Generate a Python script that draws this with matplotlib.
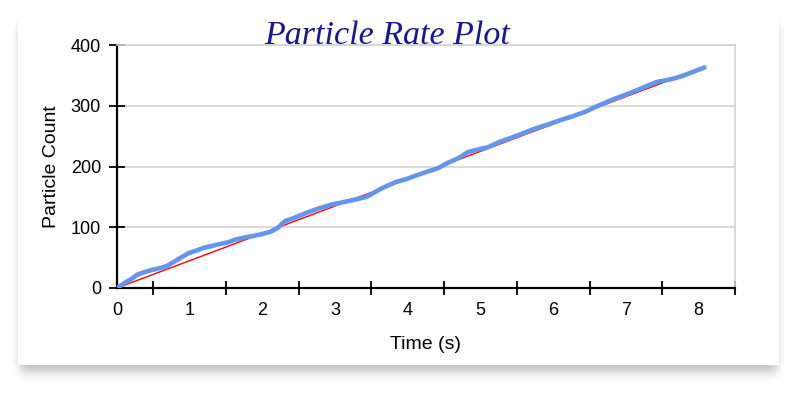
import matplotlib
matplotlib.use("Agg")
import numpy as np
import matplotlib.pyplot as plt
from matplotlib.patches import Rectangle

t_meas = [0.0, 0.10, 0.20, 0.28, 0.40, 0.49, 0.60, 0.70, 0.85, 0.98, 1.10, 1.19, 1.30,
          1.40, 1.52, 1.61, 1.75, 1.89, 2.00, 2.10, 2.20, 2.31, 2.45, 2.59, 2.75,
          2.94, 3.10, 3.29, 3.43, 3.55, 3.64, 3.75, 3.85, 4.00, 4.13, 4.28, 4.41,
          4.55, 4.70, 4.83, 4.97, 5.11, 5.25, 5.39, 5.55, 5.74, 5.90, 6.09, 6.25,
          6.44, 6.58, 6.70, 6.79, 6.95, 7.14, 7.28, 7.42, 7.55, 7.63, 7.75, 7.84,
          7.95, 8.08]
n_meas = [0, 8, 15, 22, 27, 30, 33, 37, 48, 57, 62, 66, 69,
          72, 75, 79, 83, 86, 89, 92, 98, 110, 116, 123, 130,
          137, 141, 146, 150, 158, 164, 170, 175, 180, 186, 192, 197,
          206, 214, 224, 228, 232, 240, 246, 253, 262, 268, 276, 282,
          290, 298, 304, 309, 316, 325, 332, 339, 342, 344, 348, 352,
          357, 363]

# linear fit
t_fit = [0.0, 7.6]
n_fit = [0.0, 342.0]

fig = plt.figure(figsize=(7.98, 3.94), dpi=100)
fig.patch.set_facecolor("white")

W, H = 798, 394
x0, y0, x1, y1 = 18, 12, 779, 365

# soft drop shadow behind the card (box blur of a shifted rectangle)
mask = np.zeros((H, W))
mask[y0 + 14:y1 + 6, x0 + 2:x1 - 2] = 1.0


def box_blur(a, r, axis):
    k = np.ones(2 * r + 1) / (2 * r + 1)
    return np.apply_along_axis(lambda v: np.convolve(v, k, mode="same"), axis, a)


for _ in range(3):
    mask = box_blur(mask, 5, 0)
    mask = box_blur(mask, 4, 1)
shadow = np.zeros((H, W, 4))
shadow[..., 3] = 0.28 * mask
fig.figimage(shadow, xo=0, yo=0, origin="upper", zorder=0)

fig.patches.append(Rectangle((x0 / W, (H - y1) / H), (x1 - x0) / W, (y1 - y0) / H,
                             transform=fig.transFigure, facecolor="white",
                             edgecolor="none", zorder=1))

ax = fig.add_axes([117 / W, (H - 288) / H, (735 - 117) / W, (288 - 45) / H])
ax.set_zorder(2)
ax.set_facecolor("white")

ax.plot(t_fit, n_fit, color="red", lw=1.0, zorder=2)
ax.plot(t_meas, n_meas, color="#6495ED", lw=3.3, solid_capstyle="round",
        solid_joinstyle="round", zorder=3)

ax.set_xlim(0, 8.5)
ax.set_ylim(0, 400)

ax.set_xticks(range(0, 9))
ax.set_xticks([k + 0.5 for k in range(9)], minor=True)
ax.set_yticks([0, 100, 200, 300, 400])
ax.tick_params(axis="x", which="major", length=0, pad=10, labelsize=13)
ax.tick_params(axis="x", which="minor", direction="inout", length=10.5, width=1.3,
               color="black")
ax.tick_params(axis="y", direction="inout", length=11, width=1.3, pad=6, labelsize=13)

ax.grid(axis="y", color="#d3d3d3", lw=1.2)
ax.set_axisbelow(True)
for s in ["top", "right"]:
    ax.spines[s].set_color("#d3d3d3")
    ax.spines[s].set_linewidth(1.2)
for s in ["left", "bottom"]:
    ax.spines[s].set_color("black")
    ax.spines[s].set_linewidth(1.6)

for lab in ax.get_xticklabels() + ax.get_yticklabels():
    lab.set_family("Liberation Sans")

ax.set_xlabel("Time (s)", fontsize=14, family="Liberation Sans", labelpad=12)
ax.set_ylabel("Particle Count", fontsize=14, family="Liberation Sans", labelpad=8)

fig.text(387 / W, (H - 44) / H, "Particle Rate Plot", fontsize=24.5,
         family="Liberation Serif", style="italic", color="#16169a",
         ha="center", va="baseline", zorder=5)

fig.savefig("out.png", dpi=100)
